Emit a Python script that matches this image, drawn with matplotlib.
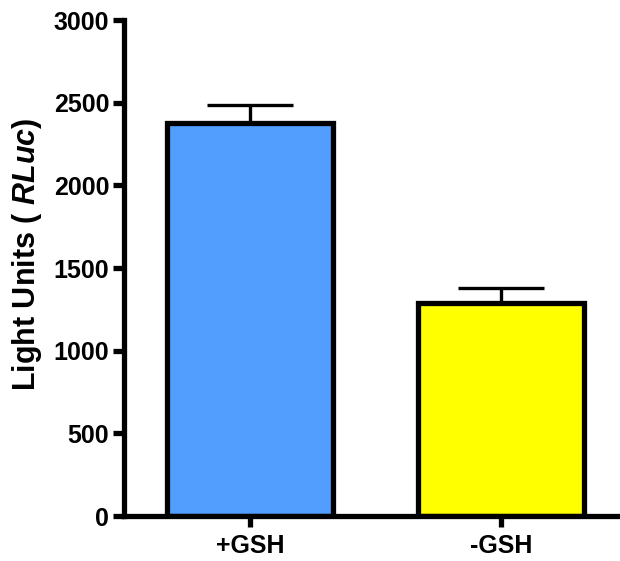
import matplotlib
matplotlib.use("Agg")
from matplotlib import pyplot as plt

plt.rcParams["font.family"] = ["Liberation Sans", "DejaVu Sans"]
plt.rcParams["mathtext.fontset"] = "custom"
plt.rcParams["mathtext.rm"] = "Liberation Sans:bold"
plt.rcParams["mathtext.it"] = "Liberation Sans:bold:italic"

groups = ["+GSH", "-GSH"]
means = [2380, 1290]
errors = [105, 90]
colors = ["#529EFF", "#FFFF00"]
y_ticks = [0, 500, 1000, 1500, 2000, 2500, 3000]

fig = plt.figure(figsize=(6.2, 5.61), dpi=100)
ax = fig.add_axes([0.2008, 0.0802, 0.81, 0.8841])

x = list(range(len(groups)))
# upper-only error bars, drawn under the bars
ax.errorbar(x, means, yerr=[[0] * len(errors), errors], fmt="none",
            ecolor="black", elinewidth=2.4, capsize=31, capthick=2.4, zorder=1)
ax.bar(x, means, width=0.66, color=colors, edgecolor="black",
       linewidth=3.8, zorder=2)

ax.set_xlim(-0.5, 1.5)
ax.set_ylim(0, 3000)
ax.set_yticks(y_ticks)
ax.set_xticks(x)
ax.set_xticklabels(groups)

for side in ["top", "right"]:
    ax.spines[side].set_visible(False)
for side in ["left", "bottom"]:
    ax.spines[side].set_linewidth(3.8)
    ax.spines[side].set_capstyle("projecting")

ax.tick_params(axis="both", width=3.8, length=8, labelsize=18)
ax.tick_params(axis="y", pad=3)
ax.tick_params(axis="x", pad=5)
for lbl in ax.get_xticklabels() + ax.get_yticklabels():
    lbl.set_fontweight("bold")

fig.text(27 / 620, 1 - 254 / 561, r"Light Units ( $\mathit{RLuc}$)",
         rotation=90, ha="center", va="center", fontsize=22, fontweight="bold")

fig.savefig("out.png", dpi=100)
